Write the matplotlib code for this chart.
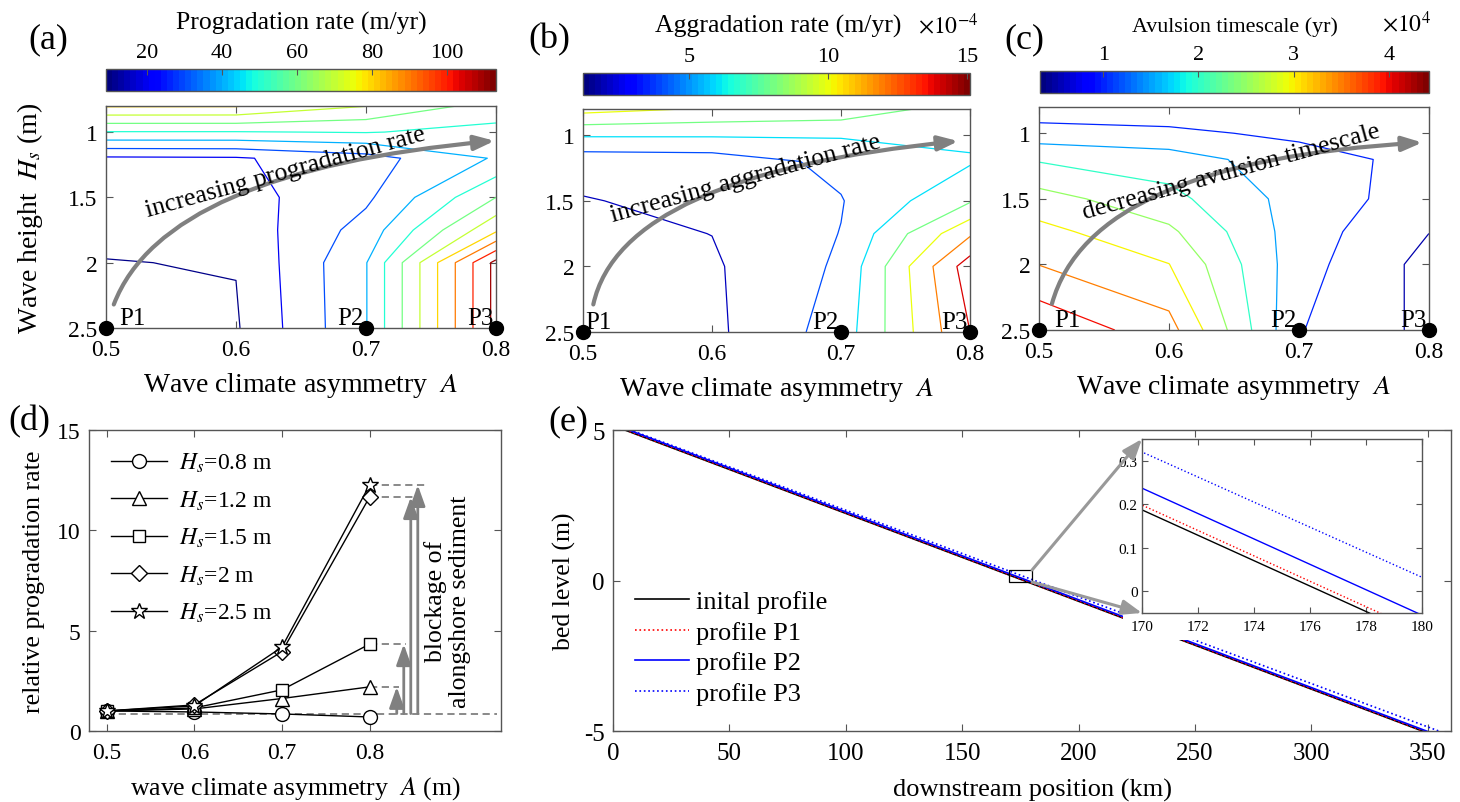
import numpy as np
import matplotlib
matplotlib.use('Agg')
import matplotlib.pyplot as plt
from matplotlib.path import Path
from matplotlib.patches import FancyArrowPatch, Rectangle, ConnectionPatch
from matplotlib.colors import Normalize
from matplotlib.cm import ScalarMappable

plt.rcParams['font.family'] = ['Liberation Serif', 'DejaVu Serif']
plt.rcParams['mathtext.fontset'] = 'stix'
plt.rcParams['axes.unicode_minus'] = False

FRAME = '#555555'
ARROW = '#808080'

# ---------------- data ----------------
# (a)-(c) model grid: columns follow asym, rows follow wave_h
asym = [0.5, 0.6, 0.7, 0.8]
wave_h = [0.8, 1.0, 1.2, 1.5, 1.75, 2.0, 2.5]

prog_rate = [  # m/yr
    [81.0, 80.8, 70.3, 55.6],
    [49.5, 49.5, 50.5, 47.0],
    [18.5, 19.0, 26.0, 41.0],
    [13.0, 16.0, 28.0, 60.0],
    [11.5, 13.4, 34.0, 78.0],
    [9.8, 10.35, 39.5, 113.0],
    [9.3, 9.06, 39.5, 113.0],
]
aggr_rate = [  # x1e-4 m/yr
    [10.7, 9.8, 9.3, 7.0],
    [6.2, 6.2, 6.2, 6.4],
    [2.7, 2.9, 4.5, 5.8],
    [1.9, 2.5, 3.9, 7.8],
    [1.5, 2.02, 4.05, 11.7],
    [1.3, 1.75, 4.3, 15.1],
    [1.2, 1.57, 4.9, 14.0],
]
avul_time = [  # x1e4 yr
    [0.70, 0.70, 0.60, 0.65],
    [1.20, 1.10, 0.90, 0.80],
    [1.95, 1.75, 1.20, 0.85],
    [2.70, 2.15, 1.30, 0.74],
    [3.15, 2.60, 1.25, 0.51],
    [3.49, 3.01, 1.20, 0.336],
    [4.42, 3.70, 1.03, 0.376],
]
site_asym = [0.5, 0.7, 0.8]
site_h = [2.5, 2.5, 2.5]
site_names = ['P1', 'P2', 'P3']

# (d) relative progradation rate
rel_asym = [0.5, 0.6, 0.7, 0.8]
rel_h08 = [1.0, 0.95, 0.85, 0.70]
rel_h12 = [1.0, 1.10, 1.62, 2.20]
rel_h15 = [1.0, 1.15, 2.05, 4.33]
rel_h20 = [1.0, 1.30, 3.95, 11.66]
rel_h25 = [1.0, 1.25, 4.18, 12.26]
rel_labels = ['$H_s$=0.8 m', '$H_s$=1.2 m', '$H_s$=1.5 m', '$H_s$=2 m', '$H_s$=2.5 m']
rel_base = 0.87

# (e) bed profiles
dist_km = [0, 360]
bed_initial = [5.15, -5.36]
bed_p1 = [5.162, -5.35]
bed_p2 = [5.199, -5.309]
bed_p3 = [5.216, -5.152]
profile_labels = ['inital profile', 'profile P1', 'profile P2', 'profile P3']

# ---------------- figure ----------------
fig = plt.figure(figsize=(14.6, 8.03), dpi=100)
jet = plt.get_cmap('jet')
jet64 = plt.get_cmap('jet', 64)


def frame(ax, size, xpad=8, ypad=6, length=5):
    for s in ax.spines.values():
        s.set_edgecolor(FRAME)
        s.set_linewidth(1.0)
    ax.tick_params(direction='in', top=True, right=True, length=length,
                   width=0.8, color=FRAME, labelsize=size)
    ax.tick_params(axis='x', pad=xpad)
    ax.tick_params(axis='y', pad=ypad)


def wave_panel(rect, cb_rect, field, levels, cticks, ctitle, ctitle_xy, csize,
               note, note_xy, note_rot, arrow_pts, p1_x):
    ax = fig.add_axes(rect)
    z = np.array(field)
    norm = Normalize(z.min(), z.max())
    ax.contour(asym, wave_h, z, levels=levels, cmap=jet, norm=norm, linewidths=0.9)
    ax.set_xlim(0.5, 0.8)
    ax.set_ylim(2.5, 0.8)
    ax.set_xticks([0.5, 0.6, 0.7, 0.8])
    ax.set_xticklabels(['0.5', '0.6', '0.7', '0.8'])
    ax.set_yticks([1, 1.5, 2, 2.5])
    ax.set_yticklabels(['1', '1.5', '2', '2.5'])
    frame(ax, 17)
    ax.set_xlabel('Wave climate asymmetry  $A$', fontsize=20)
    ax.xaxis.set_label_coords(0.5, -0.19)

    cax = fig.add_axes(cb_rect)
    cb = fig.colorbar(ScalarMappable(norm=norm, cmap=jet64), cax=cax,
                      orientation='horizontal', ticks=cticks)
    cax.xaxis.set_ticks_position('top')
    cax.tick_params(direction='in', length=4, width=0.8, color=FRAME,
                    labelsize=16, pad=5)
    cb.outline.set_edgecolor(FRAME)
    cb.outline.set_linewidth(1.0)
    fig.text(ctitle_xy[0], ctitle_xy[1], ctitle, fontsize=csize,
             ha='center', va='baseline')

    path = Path(arrow_pts, [Path.MOVETO, Path.CURVE3, Path.CURVE3])
    ax.add_patch(FancyArrowPatch(path=path,
                                 arrowstyle='-|>,head_length=0.6,head_width=0.22',
                                 mutation_scale=20, color=ARROW, lw=3, zorder=4))
    ax.text(note_xy[0], note_xy[1], note, rotation=note_rot, rotation_mode='anchor',
            ha='center', va='center', fontsize=18.5, zorder=5)

    ax.plot(site_asym, site_h, 'o', color='black', ms=10, clip_on=False, zorder=6)
    ax.text(p1_x, 2.47, site_names[0], fontsize=18, ha='left', va='baseline')
    ax.text(0.698, 2.47, site_names[1], fontsize=18, ha='right', va='baseline')
    ax.text(0.798, 2.47, site_names[2], fontsize=18, ha='right', va='baseline')
    return ax


ax_a = wave_panel([0.0726, 0.5903, 0.2671, 0.2765], [0.0726, 0.8854, 0.2671, 0.0274],
                  prog_rate, np.arange(10, 111, 10), [20, 40, 60, 80, 100],
                  'Progradation rate (m/yr)', (0.2066, 0.9633), 18.5,
                  'increasing progradation rate', (0.638, 1.30), 15.5,
                  [(0.506, 2.32), (0.545, 1.30), (0.799, 1.067)], 0.51)
ax_a.set_ylabel('Wave height  $H_s$ (m)', fontsize=20)
ax_a.yaxis.set_label_coords(-0.156, 0.5)

ax_b = wave_panel([0.3993, 0.5853, 0.2651, 0.2777], [0.3993, 0.8804, 0.2651, 0.0274],
                  aggr_rate, np.arange(2, 15, 2), [5, 10, 15],
                  'Aggradation rate (m/yr)', (0.5329, 0.9598), 18.5,
                  'increasing aggradation rate', (0.626, 1.33), 15.5,
                  [(0.508, 2.29), (0.53, 1.30), (0.791, 1.045)], 0.502)
fig.text(918 / 1460, 0.9585, r'$\times10^{-4}$', fontsize=17, ha='left', va='baseline')

ax_c = wave_panel([0.7116, 0.5878, 0.2671, 0.2777], [0.7123, 0.8829, 0.2664, 0.0274],
                  avul_time, np.arange(0.5, 4.01, 0.5), [1, 2, 3, 4],
                  'Avulsion timescale (yr)', (0.8459, 0.9598), 15.8,
                  'decreasing avulsion timescale', (0.648, 1.29), 15.5,
                  [(0.51, 2.30), (0.54, 1.22), (0.795, 1.071)], 0.512)
fig.text(1382 / 1460, 0.9605, r'$\times10^{4}$', fontsize=17, ha='left', va='baseline')

# ---------------- (d) ----------------
ax_d = fig.add_axes([0.061, 0.0884, 0.2822, 0.3748])
rel_series = [rel_h08, rel_h12, rel_h15, rel_h20, rel_h25]
rel_marks = [('o', 10), ('^', 10), ('s', 8), ('D', 8), ('*', 12)]
for vals, lab, (mk, ms) in zip(rel_series, rel_labels, rel_marks):
    ax_d.plot(rel_asym, vals, '-', marker=mk, ms=ms, color='black', mfc='white',
              mew=1.0, lw=1.0, label=lab, zorder=3)
ax_d.plot([0.5, 0.945], [rel_base, rel_base], '--', color=ARROW, lw=1.3,
          dashes=(4, 2.5), zorder=2)
for vals, xa, xe in zip(rel_series[1:], [0.831, 0.839, 0.847, 0.855],
                        [0.834, 0.842, 0.850, 0.866]):
    top = vals[-1]
    ax_d.plot([0.8, xe], [top, top], '--', color=ARROW, lw=1.3, dashes=(4, 2.5), zorder=2)
    ax_d.annotate('', xy=(xa, top), xytext=(xa, rel_base),
                  arrowprops=dict(arrowstyle='-|>,head_length=0.7,head_width=0.25',
                                  mutation_scale=18, color=ARROW, lw=2,
                                  shrinkA=0, shrinkB=0))
ax_d.text(0.889, 6.5, 'blockage of\nalongshore sediment', rotation=90,
          ha='center', va='center', ma='center', fontsize=18.5, linespacing=1.15)
ax_d.set_xlim(0.48, 0.95)
ax_d.set_ylim(0, 15)
ax_d.set_xticks([0.5, 0.6, 0.7, 0.8])
ax_d.set_xticklabels(['0.5', '0.6', '0.7', '0.8'])
ax_d.set_yticks([0, 5, 10, 15])
frame(ax_d, 17)
ax_d.set_xlabel('wave climate asymmetry  $A$ (m)', fontsize=18.5)
ax_d.xaxis.set_label_coords(0.5, -0.145)
ax_d.set_ylabel('relative progradation rate', fontsize=18.7)
ax_d.yaxis.set_label_coords(-0.107, 0.5)
ax_d.legend(loc='upper left', bbox_to_anchor=(0.012, 0.985), frameon=False, fontsize=17,
            handlelength=2.4, handletextpad=0.5, labelspacing=0.6, borderaxespad=0.3)

# ---------------- (e) ----------------
ax_e = fig.add_axes([0.4199, 0.0884, 0.574, 0.3748])
profile_styles = [('black', '-'), ('red', ':'), ('blue', '-'), ('blue', ':')]
for bed, lab, (col, ls) in zip([bed_initial, bed_p1, bed_p2, bed_p3],
                               profile_labels, profile_styles):
    ax_e.plot(dist_km, bed, color=col, ls=ls, lw=1.2, label=lab, zorder=2)
ax_e.set_xlim(0, 360)
ax_e.set_ylim(-5, 5)
ax_e.set_xticks(np.arange(0, 351, 50))
ax_e.set_yticks([-5, 0, 5])
frame(ax_e, 18)
ax_e.set_xlabel('downstream position (km)', fontsize=19)
ax_e.xaxis.set_label_coords(0.5, -0.155)
ax_e.set_ylabel('bed level (m)', fontsize=18.5)
ax_e.yaxis.set_label_coords(-0.044, 0.5)
ax_e.legend(loc='upper left', bbox_to_anchor=(0.007, 0.522), frameon=False, fontsize=19,
            handlelength=2.05, handletextpad=0.27, labelspacing=0.27, borderaxespad=0.2)
ax_e.add_patch(Rectangle((170, -0.05), 10, 0.4, fill=False, edgecolor='black', lw=0.9, zorder=4))
ax_e.add_patch(Rectangle((0.6086, 0.302), 0.379, 0.673, transform=ax_e.transAxes,
                         facecolor='white', edgecolor='none', zorder=3))

ins = fig.add_axes([0.7822, 0.2354, 0.1918, 0.2167])
for bed, (col, ls) in zip([bed_initial, bed_p1, bed_p2, bed_p3], profile_styles):
    ins.plot(dist_km, bed, color=col, ls=ls, lw=1.0)
ins.set_xlim(170, 180)
ins.set_ylim(-0.05, 0.35)
ins.set_xticks(np.arange(170, 181, 2))
ins.set_yticks([0, 0.1, 0.2, 0.3])
ins.set_yticklabels(['0', '0.1', '0.2', '0.3'])
frame(ins, 11, xpad=5, ypad=3, length=4)

for ya, yb in [(0.35, 0.35), (-0.05, -0.05)]:
    con = ConnectionPatch(xyA=(180, ya), coordsA=ax_e.transData,
                          xyB=(170, yb), coordsB=ins.transData,
                          arrowstyle='-|>,head_length=0.8,head_width=0.3',
                          mutation_scale=15, color='#999999', lw=2.2)
    fig.add_artist(con)

# panel tags
for tag, x, y in [('(a)', 0.0192, 0.951), ('(b)', 0.3616, 0.950), ('(c)', 0.688, 0.950),
                  ('(d)', 0.006, 0.4745), ('(e)', 0.3753, 0.4745)]:
    fig.text(x, y, tag, fontsize=26, ha='left', va='center')

fig.savefig('out.png', dpi=100, facecolor='white')
